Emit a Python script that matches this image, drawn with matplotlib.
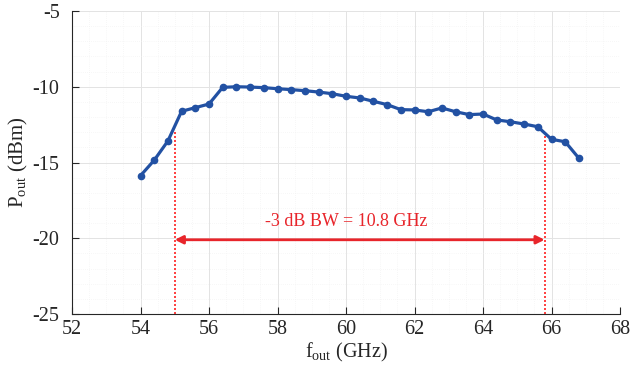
import matplotlib
matplotlib.use("Agg")
import matplotlib.pyplot as plt
import numpy as np
from matplotlib.ticker import MultipleLocator

plt.rcParams['font.family'] = ['Liberation Serif', 'DejaVu Serif']
plt.rcParams['mathtext.fontset'] = 'custom'
plt.rcParams['mathtext.rm'] = 'Liberation Serif'
plt.rcParams['mathtext.it'] = 'Liberation Serif:italic'
plt.rcParams['axes.unicode_minus'] = False

# Data
freq_ghz = [54.0, 54.4, 54.8, 55.2, 55.6, 56.0, 56.4, 56.8, 57.2, 57.6, 58.0,
            58.4, 58.8, 59.2, 59.6, 60.0, 60.4, 60.8, 61.2, 61.6, 62.0,
            62.4, 62.8, 63.2, 63.6, 64.0, 64.4, 64.8, 65.2, 65.6, 66.0, 66.4, 66.8]
pout_dbm = [-15.87, -14.85, -13.58, -11.62, -11.38, -11.14, -10.04, -10.00, -10.02, -10.06, -10.13,
            -10.19, -10.26, -10.35, -10.46, -10.63, -10.74, -10.96, -11.18, -11.51, -11.53,
            -11.65, -11.40, -11.65, -11.84, -11.80, -12.19, -12.31, -12.46, -12.64, -13.47, -13.63, -14.72]
bw_edges = [55.0, 65.8]
bw_level = -13.0
arrow_y = -20.1
bw_label = "-3 dB BW = 10.8 GHz"
label_pos = (60.0, -18.9)
xticks = [52, 54, 56, 58, 60, 62, 64, 66, 68]
yticks = [-25, -20, -15, -10, -5]

fig = plt.figure(figsize=(6.31, 3.75), dpi=100)
ax = fig.add_axes([72/631, 1-314/375, (620-72)/631, (314-11)/375])

ax.set_xlim(52, 68)
ax.set_ylim(-25, -5)
ax.set_xticks(xticks)
ax.set_yticks(yticks)
ax.xaxis.set_minor_locator(MultipleLocator(0.5))
ax.yaxis.set_minor_locator(MultipleLocator(1))
ax.grid(True, which='major', color='#e3e3e3', lw=0.7, zorder=0)
ax.grid(True, which='minor', color='#f0f0f0', lw=0.5, ls=(0, (1, 2)), zorder=0)

for s in ['top', 'right']:
    ax.spines[s].set_visible(False)
for s in ['left', 'bottom']:
    ax.spines[s].set_color('#262626')
    ax.spines[s].set_linewidth(0.8)
ax.tick_params(which='major', direction='in', length=5, width=0.8, color='#262626',
               labelsize=14.5, labelcolor='#262626', pad=4)
ax.tick_params(axis='y', which='major', pad=9)
ax.tick_params(which='minor', length=0)

ax.plot(freq_ghz, pout_dbm, color='#2251a3', lw=2.3, marker='o', ms=4.5, zorder=3)

for xe in bw_edges:
    ax.plot([xe, xe], [-25, bw_level], color='#ff2020', lw=1.2, ls=(0, (1.2, 1.2)), zorder=2)

ax.annotate('', xy=(bw_edges[0], arrow_y), xytext=(bw_edges[1], arrow_y),
            arrowprops=dict(arrowstyle='<|-|>', color='#e8252b', lw=2,
                            mutation_scale=12, shrinkA=0, shrinkB=0), zorder=4)
ax.text(label_pos[0], label_pos[1], bw_label, color='#e8252b', fontsize=13,
        ha='center', va='center')

ax.set_xlabel(r'$\mathregular{f_{out}}$ (GHz)', fontsize=14.5, color='#262626', labelpad=2)
ax.set_ylabel(r'$\mathregular{P_{out}}$ (dBm)', fontsize=15, color='#262626', labelpad=2)

fig.savefig('out.png', dpi=100)
